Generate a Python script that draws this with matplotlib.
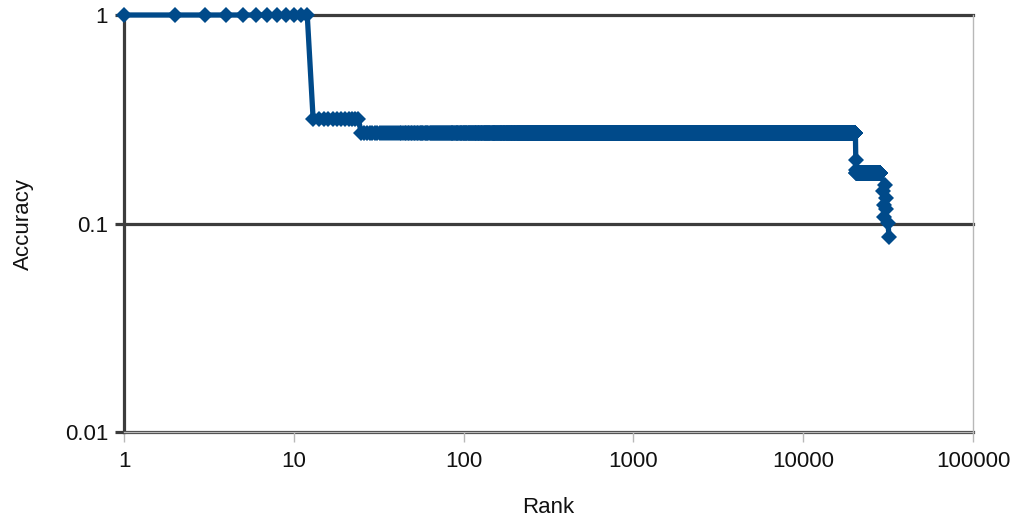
import numpy as np
import matplotlib.pyplot as plt
from matplotlib.ticker import FixedLocator, FixedFormatter

plt.rcParams['font.family'] = ['Liberation Sans', 'DejaVu Sans']

# points isolés (rang, précision)
top_rank = [1, 2, 3, 4, 5, 6, 7, 8, 9, 10, 11, 12]
top_acc = [1.0, 1.0, 1.0, 1.0, 1.0, 1.0, 1.0, 1.0, 1.0, 1.0, 1.0, 1.0]

# paliers : chaque rang entier du palier a la même précision
plateau_start = [13, 25, 20600]
plateau_end = [24, 20300, 28300]
plateau_acc = [0.316, 0.271, 0.174]

# petite marche entre les deux derniers paliers
mid_rank = [20400, 20500]
mid_acc = [0.202, 0.181]

# chute finale
tail_rank = [30300, 29400, 30700, 29800, 30700, 29800, 31600, 32000]
tail_acc = [0.153, 0.143, 0.132, 0.123, 0.118, 0.108, 0.101, 0.086]

y_ticks = [0.01, 0.1, 1]
y_labels = ['0.01', '0.1', '1']
x_ticks = [1, 10, 100, 1000, 10000, 100000]
x_labels = ['1', '10', '100', '1000', '10000', '100000']

# on recolle la série dans l'ordre
ranks = list(top_rank)
accs = list(top_acc)
for s, e, a in zip(plateau_start[:2], plateau_end[:2], plateau_acc[:2]):
    r = np.arange(s, e + 1)
    ranks += list(r)
    accs += [a] * len(r)
ranks += mid_rank
accs += mid_acc
r = np.arange(plateau_start[2], plateau_end[2] + 1)
ranks += list(r)
accs += [plateau_acc[2]] * len(r)
ranks += tail_rank
accs += tail_acc

fig = plt.figure(figsize=(10.19, 5.22), dpi=100)
ax = fig.add_axes([124 / 1019, 1 - 432 / 522, 849 / 1019, 417 / 522])

bleu = '#004a8a'
gris = '#3c3c3c'

for yt in y_ticks:
    ax.axhline(yt, color=gris, lw=2.3, clip_on=False, zorder=1)

ax.plot(ranks, accs, '-', color=bleu, lw=3.8, marker='D', markersize=7.8,
        markeredgewidth=0, clip_on=False, zorder=3)

ax.set_xscale('log')
ax.set_yscale('log')
ax.set_xlim(1, 100000)
ax.set_ylim(0.01, 1)

ax.xaxis.set_major_locator(FixedLocator(x_ticks))
ax.xaxis.set_major_formatter(FixedFormatter(x_labels))
ax.xaxis.set_minor_locator(FixedLocator([]))
ax.yaxis.set_major_locator(FixedLocator(y_ticks))
ax.yaxis.set_major_formatter(FixedFormatter(y_labels))
ax.yaxis.set_minor_locator(FixedLocator([]))

ax.spines['top'].set_visible(False)
ax.spines['right'].set_color('#b8b8b8')
ax.spines['right'].set_linewidth(1)
ax.spines['bottom'].set_color('#b8b8b8')
ax.spines['bottom'].set_linewidth(1)
ax.spines['left'].set_color(gris)
ax.spines['left'].set_linewidth(2.3)
ax.spines['left'].set_zorder(2)

ax.tick_params(axis='x', direction='out', length=7, width=1, color='#b8b8b8',
               pad=7, labelsize=16, labelcolor='#111111')
ax.tick_params(axis='y', direction='out', length=6.5, width=2.3, color=gris,
               pad=5, labelsize=16, labelcolor='#111111')

ax.set_xlabel('Rank', fontsize=16, labelpad=18, color='#111111')
ax.set_ylabel('Accuracy', fontsize=16, labelpad=22, color='#111111')

plt.savefig('out.png', dpi=100)
